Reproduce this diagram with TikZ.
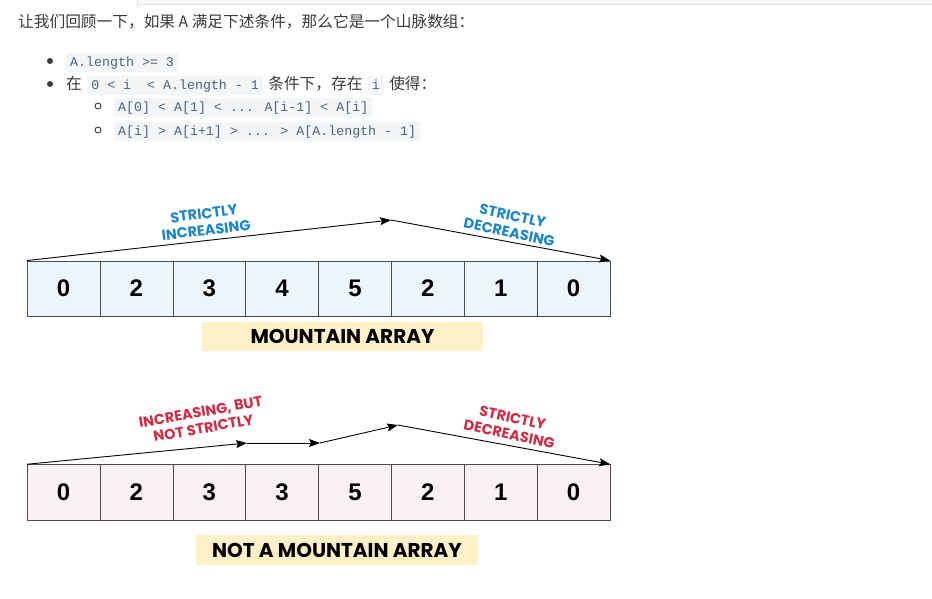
\documentclass[tikz,border=0pt]{standalone}
\usepackage{fontspec}
\setmainfont{Liberation Sans}
\newfontfamily\cjkfont{Noto Sans CJK SC}
\newfontfamily\codefont{Liberation Mono}
\newfontfamily\comicfont{Poppins}
\usetikzlibrary{positioning,arrows.meta}
\definecolor{txtgray}{HTML}{3A3A3A}
\definecolor{codeblue}{HTML}{476582}
\definecolor{codebg}{HTML}{F3F5F7}
\definecolor{cellblue}{HTML}{EDF5FC}
\definecolor{cellpink}{HTML}{FDF0F3}
\definecolor{tagyellow}{HTML}{FFF0C8}
\definecolor{inkblue}{HTML}{1C86CC}
\definecolor{inkred}{HTML}{D22B43}

\tikzset{
  cn/.style={text=txtgray, font=\cjkfont\fontsize{15.7}{18}\selectfont, inner sep=0pt, anchor=base west},
  code/.style={fill=codebg, text=codeblue, font=\codefont\fontsize{13.3}{16}\selectfont,
    inner xsep=4pt, inner ysep=3pt, text height=10pt, text depth=3pt, rounded corners=2pt, anchor=base west},
  dot/.style={circle, fill=txtgray, minimum size=6pt, inner sep=0pt},
  ring/.style={circle, draw=txtgray, line width=0.9pt, minimum size=6pt, inner sep=0pt},
  cell/.style={draw=black!70, minimum width=72.875pt, minimum height=55.5pt, inner sep=0pt,
    font=\bfseries\fontsize{24}{26}\selectfont},
  cellA/.style={cell, fill=cellblue},
  cellB/.style={cell, fill=cellpink},
  inklbl/.style={font=\comicfont\bfseries\fontsize{14.5}{16.5}\selectfont, align=center, inner sep=0pt},
  tag/.style={fill=tagyellow, font=\comicfont\bfseries\fontsize{20}{22}\selectfont, inner sep=0pt},
  flow/.style={->, line width=0.9pt, black}
}

\begin{document}
\begin{tikzpicture}[x=1pt, y=-1pt, >={Stealth[length=11pt,width=8pt,inset=2pt]}]
        \useasboundingbox (0,0) rectangle (932,598);
        % Page strip at the top
        \draw[gray!25, fill=gray!4] (137,-1) -- (137,4) -- (933,4) -- (933,-1);
        % Intro text
        \node[cn] (title) at (18,27) {让我们回顾一下，如果 A 满足下述条件，那么它是一个山脉数组：};
        \node[dot] (d1) at (50,61) {};
        \node[code] (c1) at (66,66) {A.length >= 3};
        \node[dot] (d2) at (50,84) {};
        \node[cn] (zai) at (66,89) {在};
        \node[code] (c2) at ([xshift=5pt]zai.base east) {0 < i\ \ < A.length - 1};
        \node[cn] (cond) at ([xshift=5pt]c2.base east) {条件下，存在};
        \node[code] (c3) at ([xshift=5pt]cond.base east) {i};
        \node[cn] (shide) at ([xshift=5pt]c3.base east) {使得：};
        \node[ring] (r1) at (98,106) {};
        \node[code] (c4) at (114,111) {A[0] < A[1] < ... A[i-1] < A[i]};
        \node[ring] (r2) at (98,130) {};
        \node[code] (c5) at (114,135) {A[i] > A[i+1] > ... > A[A.length - 1]};
        % Mountain array
        \foreach \i/\v in {0/0, 1/2, 2/3, 3/4, 4/5, 5/2, 6/1, 7/0} {
            \node[cellA] (a\i) at (63.44+72.875*\i, 288.5) {\v};
        }
        \coordinate (peakA) at (391,220);
        \draw[flow] (a0.north west) -- (peakA);
        \draw[flow] (peakA) -- (a7.north east);
        \node[inklbl, text=inkblue, rotate=7] (incA) at (205,222) {STRICTLY\\INCREASING};
        \node[inklbl, text=inkblue, rotate=-12] (decA) at (511,224) {STRICTLY\\DECREASING};
        \node[tag, minimum width=281pt, minimum height=29pt] (tagA) at (342.5,336) {MOUNTAIN ARRAY};
        % Not a mountain array
        \foreach \i/\v in {0/0, 1/2, 2/3, 3/3, 4/5, 5/2, 6/1, 7/0} {
            \node[cellB] (b\i) at (63.44+72.875*\i, 492.2) {\v};
        }
        \coordinate (flatA) at (247,443);
        \coordinate (flatB) at (320,443);
        \coordinate (peakB) at (398,425);
        \draw[flow] (b0.north west) -- (flatA);
        \draw[flow] (flatA) -- (flatB);
        \draw[flow] (flatB) -- (peakB);
        \draw[flow] (peakB) -- (b7.north east);
        \node[inklbl, text=inkred, rotate=10] (incB) at (202,420) {INCREASING, BUT\\NOT STRICTLY};
        \node[inklbl, text=inkred, rotate=-12] (decB) at (511,426) {STRICTLY\\DECREASING};
        \node[tag, minimum width=282pt, minimum height=30pt] (tagB) at (337,550) {NOT A MOUNTAIN ARRAY};
    \end{tikzpicture}
\end{document}
